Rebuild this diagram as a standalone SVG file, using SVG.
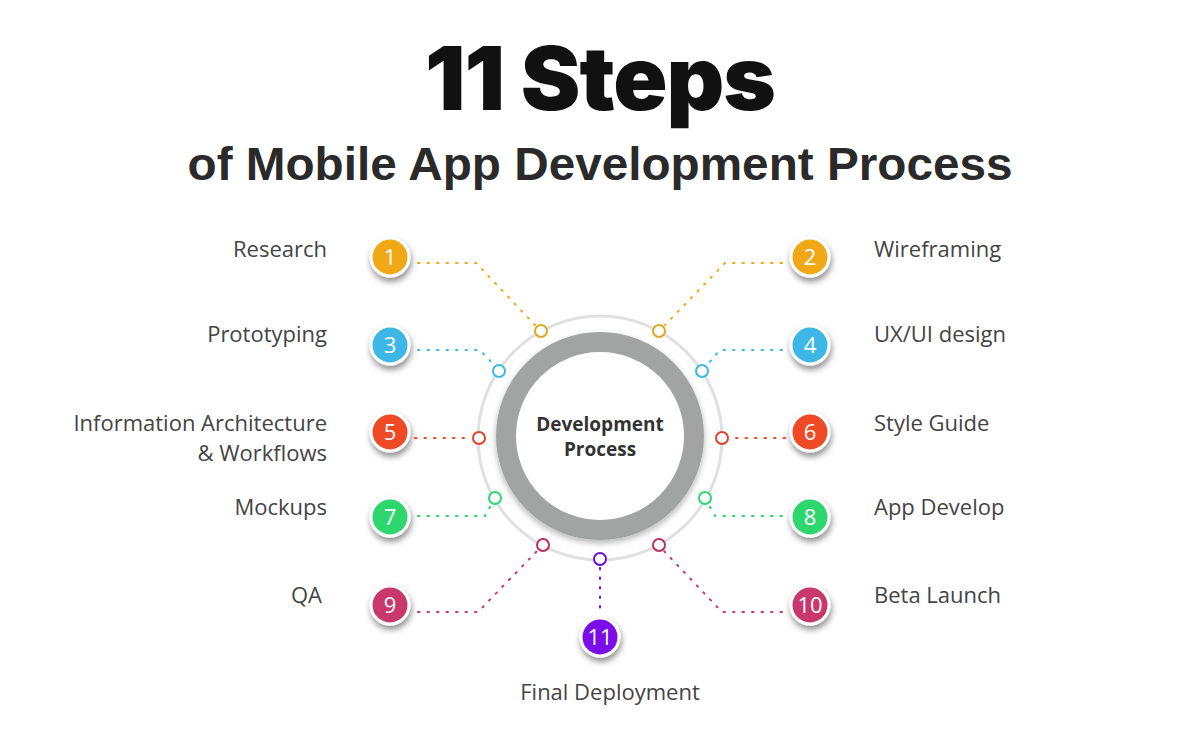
<svg xmlns="http://www.w3.org/2000/svg" width="1200" height="732" viewBox="0 0 1200 732">
<style>
.lbl{font-family:"Open Sans","Liberation Sans",sans-serif;font-size:22px;fill:#444}
.num{font-family:"Open Sans","Liberation Sans",sans-serif;font-size:22px;fill:#fff;text-anchor:middle}
.dot{fill:#fff;stroke-width:2}
.con{fill:none;stroke-width:2;stroke-dasharray:1.5 8;stroke-linecap:round}
</style>
<defs>
<filter id="sh" x="-50%" y="-50%" width="200%" height="220%"><feDropShadow dx="1" dy="4" stdDeviation="3" flood-color="#000" flood-opacity="0.45"/></filter>
<filter id="rs" x="-20%" y="-20%" width="140%" height="140%"><feDropShadow dx="0" dy="3" stdDeviation="3" flood-color="#000" flood-opacity="0.3"/></filter>
</defs>
<rect width="1200" height="732" fill="#fff"/>
<text x="600" y="110" text-anchor="middle" font-family="Inter,'Liberation Sans',sans-serif" font-weight="900" font-size="88" fill="#111" letter-spacing="-1" textLength="350" lengthAdjust="spacingAndGlyphs">11 Steps</text>
<text x="600" y="180" text-anchor="middle" font-family="'Liberation Sans',Arial,sans-serif" font-weight="bold" font-size="47" fill="#2a2a2a" textLength="825" lengthAdjust="spacingAndGlyphs">of Mobile App Development Process</text>
<g id="hub">
<circle cx="600" cy="438" r="122" fill="none" stroke="#e0e0e0" stroke-width="3"/>
<circle cx="600" cy="436" r="94" fill="#fff" stroke="#a2a4a4" stroke-width="20" filter="url(#rs)"/>
<text x="600" y="431" text-anchor="middle" font-family="'Open Sans','Liberation Sans',sans-serif" font-weight="bold" font-size="19" fill="#333">Development</text>
<text x="600" y="456" text-anchor="middle" font-family="'Open Sans','Liberation Sans',sans-serif" font-weight="bold" font-size="19" fill="#333">Process</text>
</g>
<g id="connectors">
<polyline class="con" stroke="#f0a818" points="418,263 476,263 535,325"/>
<polyline class="con" stroke="#f0a818" points="782,263 725,263 665,325"/>
<polyline class="con" stroke="#3cb8e6" points="418,350 480,350 493,364"/>
<polyline class="con" stroke="#3cb8e6" points="782,350 720,350 708,364"/>
<polyline class="con" stroke="#f04a25" points="415,438 471,438"/>
<polyline class="con" stroke="#f04a25" points="785,438 730,438"/>
<polyline class="con" stroke="#2ed66e" points="418,516 485,516 491,505"/>
<polyline class="con" stroke="#2ed66e" points="782,516 715,516 709,505"/>
<polyline class="con" stroke="#c8386a" points="418,612 478,612 537,551"/>
<polyline class="con" stroke="#c8386a" points="782,612 722,612 664,551"/>
<polyline class="con" stroke="#7a10e8" points="600,568 600,610"/>
</g>
<g id="dots">
<circle class="dot" cx="541" cy="331" r="6" stroke="#e0a820"/>
<circle class="dot" cx="659" cy="331" r="6" stroke="#e0a820"/>
<circle class="dot" cx="499" cy="371" r="6" stroke="#3cb8e6"/>
<circle class="dot" cx="702" cy="371" r="6" stroke="#3cb8e6"/>
<circle class="dot" cx="479" cy="438" r="6" stroke="#e0402a"/>
<circle class="dot" cx="722" cy="438" r="6" stroke="#e0402a"/>
<circle class="dot" cx="495" cy="498" r="6" stroke="#2ed66e"/>
<circle class="dot" cx="705" cy="498" r="6" stroke="#2ed66e"/>
<circle class="dot" cx="543" cy="545" r="6" stroke="#b83060"/>
<circle class="dot" cx="659" cy="545" r="6" stroke="#b83060"/>
<circle class="dot" cx="600" cy="559" r="6" stroke="#6a10d8"/>
</g>
<g id="step1"><circle cx="390" cy="257" r="19" fill="#f0a818" stroke="#fff" stroke-width="3" filter="url(#sh)"/><text class="num" x="390" y="265">1</text><text class="lbl" x="327" y="257" text-anchor="end">Research</text></g>
<g id="step2"><circle cx="810" cy="257" r="19" fill="#f0a818" stroke="#fff" stroke-width="3" filter="url(#sh)"/><text class="num" x="810" y="265">2</text><text class="lbl" x="874" y="257">Wireframing</text></g>
<g id="step3"><circle cx="390" cy="345" r="19" fill="#3cb8e6" stroke="#fff" stroke-width="3" filter="url(#sh)"/><text class="num" x="390" y="353">3</text><text class="lbl" x="327" y="342" text-anchor="end">Prototyping</text></g>
<g id="step4"><circle cx="810" cy="345" r="19" fill="#3cb8e6" stroke="#fff" stroke-width="3" filter="url(#sh)"/><text class="num" x="810" y="353">4</text><text class="lbl" x="874" y="342">UX/UI design</text></g>
<g id="step5"><circle cx="390" cy="432" r="19" fill="#f04a25" stroke="#fff" stroke-width="3" filter="url(#sh)"/><text class="num" x="390" y="440">5</text><text class="lbl" x="327" y="431" text-anchor="end">Information Architecture</text><text class="lbl" x="327" y="461" text-anchor="end">&amp; Workflows</text></g>
<g id="step6"><circle cx="810" cy="432" r="19" fill="#f04a25" stroke="#fff" stroke-width="3" filter="url(#sh)"/><text class="num" x="810" y="440">6</text><text class="lbl" x="874" y="431">Style Guide</text></g>
<g id="step7"><circle cx="390" cy="517" r="19" fill="#2ed66e" stroke="#fff" stroke-width="3" filter="url(#sh)"/><text class="num" x="390" y="525">7</text><text class="lbl" x="327" y="515" text-anchor="end">Mockups</text></g>
<g id="step8"><circle cx="810" cy="517" r="19" fill="#2ed66e" stroke="#fff" stroke-width="3" filter="url(#sh)"/><text class="num" x="810" y="525">8</text><text class="lbl" x="874" y="515">App Develop</text></g>
<g id="step9"><circle cx="390" cy="605" r="19" fill="#c8386a" stroke="#fff" stroke-width="3" filter="url(#sh)"/><text class="num" x="390" y="613">9</text><text class="lbl" x="322" y="603" text-anchor="end">QA</text></g>
<g id="step10"><circle cx="810" cy="605" r="19" fill="#c8386a" stroke="#fff" stroke-width="3" filter="url(#sh)"/><text class="num" x="810" y="613">10</text><text class="lbl" x="874" y="603">Beta Launch</text></g>
<g id="step11"><circle cx="600" cy="637" r="19" fill="#7a10e8" stroke="#fff" stroke-width="3" filter="url(#sh)"/><text class="num" x="600" y="645">11</text><text class="lbl" x="610" y="700" text-anchor="middle">Final Deployment</text></g>
</svg>
